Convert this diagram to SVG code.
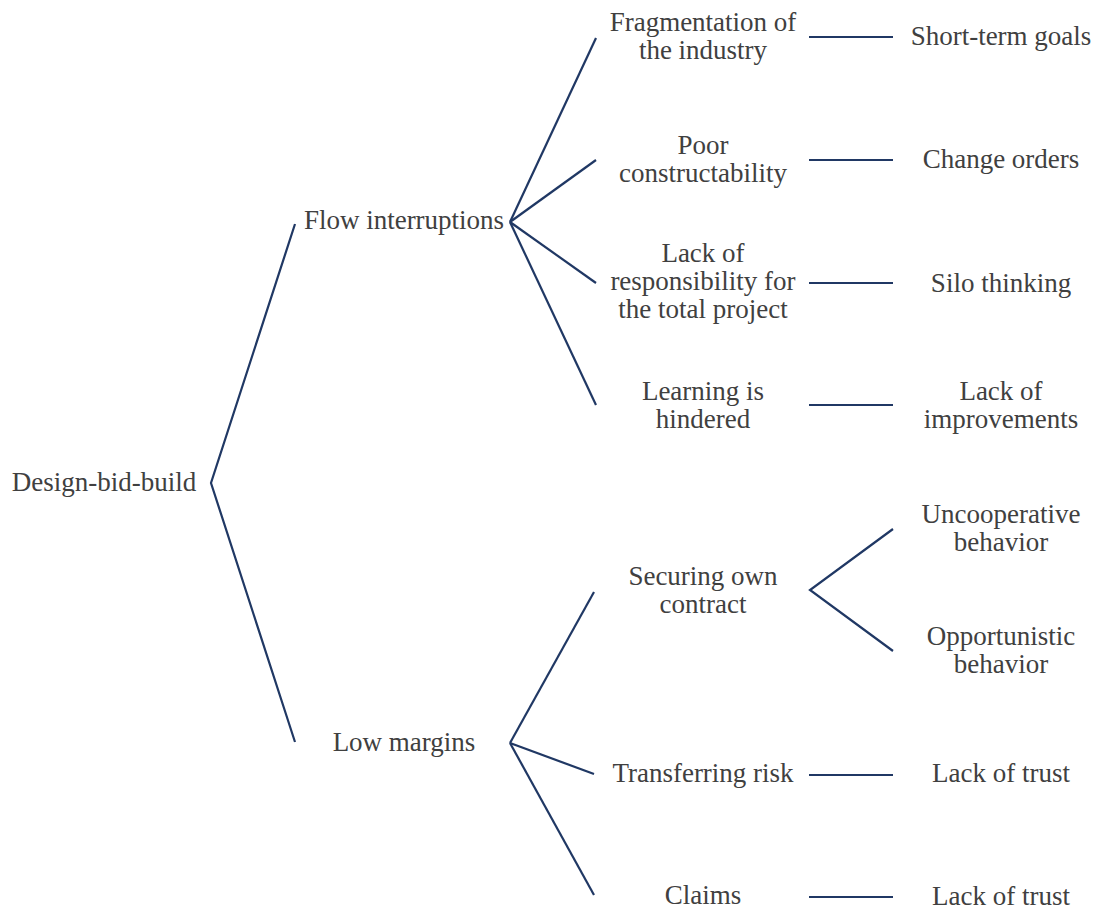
<svg xmlns="http://www.w3.org/2000/svg" width="1097" height="911" viewBox="0 0 1097 911">
<style>
text{font-family:"Liberation Serif","Times New Roman",serif;font-size:27px;fill:#404040;text-anchor:middle}
.c line,.c polyline{stroke:#203864;stroke-width:2.2;fill:none}
</style>
<rect width="1097" height="911" fill="#fff"/>
<g class="c" id="connectors">
<polyline points="295,224 211,483 295,742"/>
<line x1="510" y1="222" x2="596" y2="38"/>
<line x1="510" y1="222" x2="596" y2="160"/>
<line x1="510" y1="222" x2="596" y2="283"/>
<line x1="510" y1="222" x2="596" y2="405"/>
<line x1="510" y1="743" x2="594" y2="592"/>
<line x1="510" y1="743" x2="594" y2="774"/>
<line x1="510" y1="743" x2="594" y2="895"/>
<line x1="809" y1="37" x2="893" y2="37"/>
<line x1="809" y1="160" x2="893" y2="160"/>
<line x1="809" y1="283" x2="893" y2="283"/>
<line x1="809" y1="405" x2="893" y2="405"/>
<polyline points="893,529 810,590 893,651"/>
<line x1="809" y1="775" x2="893" y2="775"/>
<line x1="809" y1="897" x2="893" y2="897"/>
</g>
<g id="n-root"><text x="104" y="491">Design-bid-build</text></g>
<g id="n-flow"><text x="404" y="229">Flow interruptions</text></g>
<g id="n-low"><text x="404" y="751">Low margins</text></g>
<g id="n-frag"><text x="703" y="31">Fragmentation of</text><text x="703" y="59">the industry</text></g>
<g id="n-poor"><text x="703" y="154">Poor</text><text x="703" y="182">constructability</text></g>
<g id="n-lack"><text x="703" y="262">Lack of</text><text x="703" y="290">responsibility for</text><text x="703" y="318">the total project</text></g>
<g id="n-learn"><text x="703" y="400">Learning is</text><text x="703" y="428">hindered</text></g>
<g id="n-secure"><text x="703" y="585">Securing own</text><text x="703" y="613">contract</text></g>
<g id="n-transfer"><text x="703" y="782">Transferring risk</text></g>
<g id="n-claims"><text x="703" y="904">Claims</text></g>
<g id="n-short"><text x="1001" y="45">Short-term goals</text></g>
<g id="n-change"><text x="1001" y="168">Change orders</text></g>
<g id="n-silo"><text x="1001" y="292">Silo thinking</text></g>
<g id="n-improve"><text x="1001" y="400">Lack of</text><text x="1001" y="428">improvements</text></g>
<g id="n-uncoop"><text x="1001" y="523">Uncooperative</text><text x="1001" y="551">behavior</text></g>
<g id="n-opport"><text x="1001" y="645">Opportunistic</text><text x="1001" y="673">behavior</text></g>
<g id="n-trust1"><text x="1001" y="782">Lack of trust</text></g>
<g id="n-trust2"><text x="1001" y="905">Lack of trust</text></g>
</svg>
